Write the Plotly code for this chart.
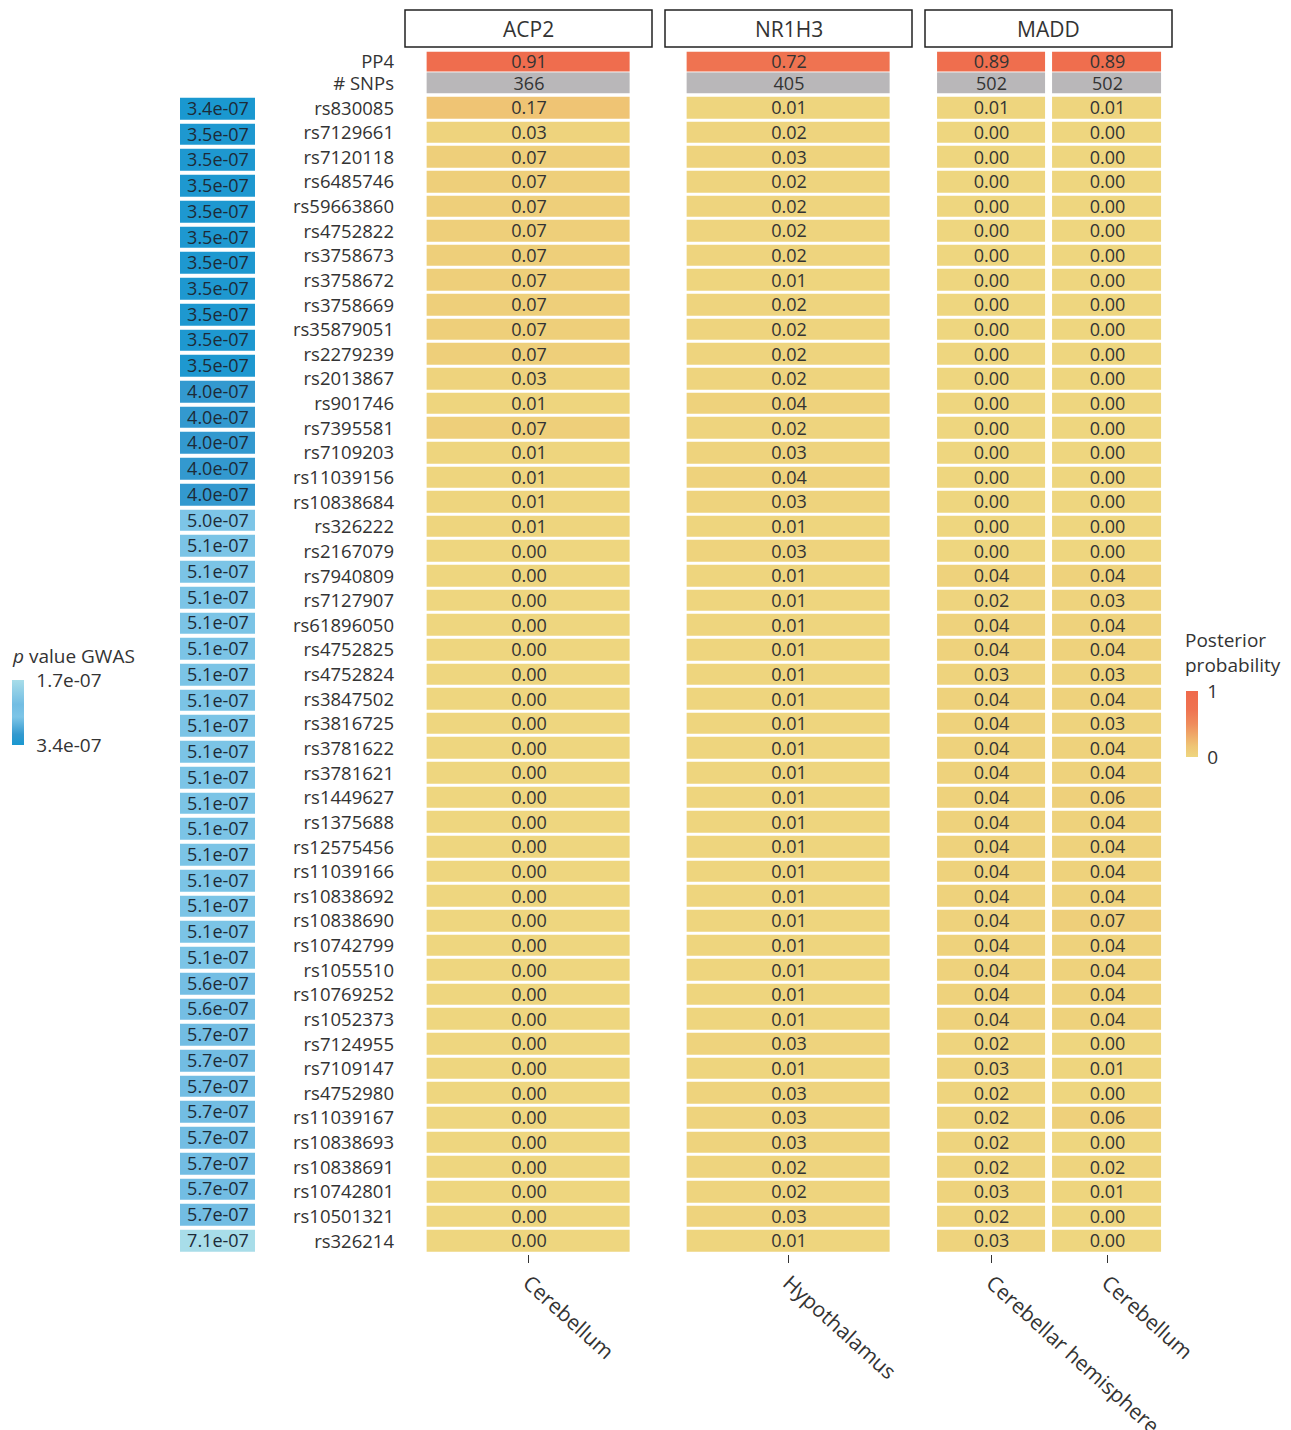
import plotly.graph_objects as go

# ---------------- data ----------------
snps = ["rs830085", "rs7129661", "rs7120118", "rs6485746", "rs59663860", "rs4752822",
        "rs3758673", "rs3758672", "rs3758669", "rs35879051", "rs2279239", "rs2013867",
        "rs901746", "rs7395581", "rs7109203", "rs11039156", "rs10838684", "rs326222",
        "rs2167079", "rs7940809", "rs7127907", "rs61896050", "rs4752825", "rs4752824",
        "rs3847502", "rs3816725", "rs3781622", "rs3781621", "rs1449627", "rs1375688",
        "rs12575456", "rs11039166", "rs10838692", "rs10838690", "rs10742799", "rs1055510",
        "rs10769252", "rs1052373", "rs7124955", "rs7109147", "rs4752980", "rs11039167",
        "rs10838693", "rs10838691", "rs10742801", "rs10501321", "rs326214"]

acp2_cerebellum = [0.17, 0.03, 0.07, 0.07, 0.07, 0.07, 0.07, 0.07, 0.07, 0.07, 0.07, 0.03,
                   0.01, 0.07, 0.01, 0.01, 0.01, 0.01, 0.00, 0.00, 0.00, 0.00, 0.00, 0.00,
                   0.00, 0.00, 0.00, 0.00, 0.00, 0.00, 0.00, 0.00, 0.00, 0.00, 0.00, 0.00,
                   0.00, 0.00, 0.00, 0.00, 0.00, 0.00, 0.00, 0.00, 0.00, 0.00, 0.00]
nr1h3_hypothalamus = [0.01, 0.02, 0.03, 0.02, 0.02, 0.02, 0.02, 0.01, 0.02, 0.02, 0.02, 0.02,
                      0.04, 0.02, 0.03, 0.04, 0.03, 0.01, 0.03, 0.01, 0.01, 0.01, 0.01, 0.01,
                      0.01, 0.01, 0.01, 0.01, 0.01, 0.01, 0.01, 0.01, 0.01, 0.01, 0.01, 0.01,
                      0.01, 0.01, 0.03, 0.01, 0.03, 0.03, 0.03, 0.02, 0.02, 0.03, 0.01]
madd_cerebellar_hemisphere = [0.01, 0.00, 0.00, 0.00, 0.00, 0.00, 0.00, 0.00, 0.00, 0.00, 0.00, 0.00,
                              0.00, 0.00, 0.00, 0.00, 0.00, 0.00, 0.00, 0.04, 0.02, 0.04, 0.04, 0.03,
                              0.04, 0.04, 0.04, 0.04, 0.04, 0.04, 0.04, 0.04, 0.04, 0.04, 0.04, 0.04,
                              0.04, 0.04, 0.02, 0.03, 0.02, 0.02, 0.02, 0.02, 0.03, 0.02, 0.03]
madd_cerebellum = [0.01, 0.00, 0.00, 0.00, 0.00, 0.00, 0.00, 0.00, 0.00, 0.00, 0.00, 0.00,
                   0.00, 0.00, 0.00, 0.00, 0.00, 0.00, 0.00, 0.04, 0.03, 0.04, 0.04, 0.03,
                   0.04, 0.03, 0.04, 0.04, 0.06, 0.04, 0.04, 0.04, 0.04, 0.07, 0.04, 0.04,
                   0.04, 0.04, 0.00, 0.01, 0.00, 0.06, 0.00, 0.02, 0.01, 0.00, 0.00]

genes = ["ACP2", "NR1H3", "MADD"]
tissues = {"ACP2": ["Cerebellum"], "NR1H3": ["Hypothalamus"],
           "MADD": ["Cerebellar hemisphere", "Cerebellum "]}
pp4 = {"ACP2": [0.91], "NR1H3": [0.72], "MADD": [0.89, 0.89]}
n_snps = {"ACP2": [366], "NR1H3": [405], "MADD": [502, 502]}
posterior = {"ACP2": [acp2_cerebellum], "NR1H3": [nr1h3_hypothalamus],
             "MADD": [madd_cerebellar_hemisphere, madd_cerebellum]}

gwas_p = [3.4e-07, 3.5e-07, 3.5e-07, 3.5e-07, 3.5e-07, 3.5e-07, 3.5e-07, 3.5e-07, 3.5e-07,
          3.5e-07, 3.5e-07, 4.0e-07, 4.0e-07, 4.0e-07, 4.0e-07, 4.0e-07, 5.0e-07, 5.1e-07,
          5.1e-07, 5.1e-07, 5.1e-07, 5.1e-07, 5.1e-07, 5.1e-07, 5.1e-07, 5.1e-07, 5.1e-07,
          5.1e-07, 5.1e-07, 5.1e-07, 5.1e-07, 5.1e-07, 5.1e-07, 5.1e-07, 5.6e-07, 5.6e-07,
          5.7e-07, 5.7e-07, 5.7e-07, 5.7e-07, 5.7e-07, 5.7e-07, 5.7e-07, 5.7e-07, 7.1e-07]
gwas_legend_labels = ["1.7e-07", "3.4e-07"]

# ---------------- layout helpers ----------------
W, H = 1291, 1430
FONT = "Open Sans"
TXT = "#333333"


def fx(p):
    return p / W


def fy(p):
    return 1 - p / H


panel_px = {"ACP2": (405, 652), "NR1H3": (665, 912), "MADD": (922.5, 1176.5)}
strip_px = {"ACP2": (405, 652), "NR1H3": (665, 912), "MADD": (925, 1172)}
main_dom = [fy(1253.5), fy(95.7)]
pp4_dom = [fy(72.2), fy(51.5)]
nsnp_dom = [fy(94), fy(72.2)]

post_scale = [[0, "#eed67f"], [0.17, "#efc474"], [0.5, "#ef8c5c"], [0.72, "#ef7351"],
              [1, "#ef6a4c"]]
p_lo, p_hi = min(gwas_p), max(gwas_p)
blue_scale = [[0, "#1a98d0"], [(4.0e-07 - p_lo) / (p_hi - p_lo), "#3399cf"],
              [(5.0e-07 - p_lo) / (p_hi - p_lo), "#7dc5e7"],
              [(5.7e-07 - p_lo) / (p_hi - p_lo), "#72bde3"], [1, "#a8dde9"]]

fig = go.Figure()
layout = dict(width=W, height=H, margin=dict(l=0, r=0, t=0, b=0),
              paper_bgcolor="white", plot_bgcolor="white", template="none",
              font=dict(family=FONT, color=TXT, size=18), showlegend=False)

shapes, annotations = [], []
xnames = ["x", "x2", "x3"]
for i, g in enumerate(genes):
    xa = xnames[i]
    n = len(tissues[g])
    gap = 7 if n > 1 else 3
    # main posterior heatmap
    fig.add_trace(go.Heatmap(
        z=[list(r) for r in zip(*posterior[g])], x=tissues[g], y=snps,
        coloraxis="coloraxis", xgap=gap, ygap=3, texttemplate="%{z:.2f}",
        textfont=dict(family=FONT, size=18, color=TXT), hoverinfo="skip",
        xaxis=xa, yaxis="y"))
    # PP4 row
    fig.add_trace(go.Heatmap(
        z=[pp4[g]], x=tissues[g], y=["PP4"], coloraxis="coloraxis", xgap=gap, ygap=1,
        texttemplate="%{z:.2f}", textfont=dict(family=FONT, size=18, color=TXT),
        hoverinfo="skip", xaxis=xa, yaxis="y2"))
    # number of SNPs row
    fig.add_trace(go.Heatmap(
        z=[n_snps[g]], x=tissues[g], y=["# SNPs"], zmin=0, zmax=1000,
        colorscale=[[0, "#b9b7b9"], [1, "#b9b7b9"]], showscale=False, xgap=gap, ygap=1,
        texttemplate="%{z}", textfont=dict(family=FONT, size=18, color=TXT),
        hoverinfo="skip", xaxis=xa, yaxis="y4"))

    key = "xaxis" if i == 0 else f"xaxis{i + 1}"
    x0, x1 = panel_px[g]
    layout[key] = dict(domain=[fx(x0), fx(x1)], anchor="y", type="category",
                       range=[-0.6, n - 0.4], showgrid=False, zeroline=False, showline=False,
                       ticks="outside", ticklen=8, tickwidth=1, tickcolor=TXT, tickangle=42,
                       tickfont=dict(family=FONT, size=21, color=TXT), automargin=False)
    s0, s1 = strip_px[g]
    shapes.append(dict(type="rect", xref="paper", yref="paper", x0=fx(s0), x1=fx(s1),
                       y0=fy(47), y1=fy(10), line=dict(color="#222222", width=1.5),
                       fillcolor="white", layer="below"))
    annotations.append(dict(text=g, xref="paper", yref="paper", x=fx((s0 + s1) / 2),
                            y=fy(28.5), showarrow=False,
                            font=dict(family=FONT, size=21, color=TXT),
                            xanchor="center", yanchor="middle"))

# GWAS p value panel
fig.add_trace(go.Heatmap(
    z=[[v] for v in gwas_p], x=["p"], y=list(range(len(gwas_p))),
    text=[[f"{v:.1e}"] for v in gwas_p], texttemplate="%{text}",
    textfont=dict(family=FONT, size=18, color="#1d2b38"),
    coloraxis="coloraxis2", xgap=0, ygap=4, hoverinfo="skip", xaxis="x4", yaxis="y3"))

ycommon = dict(anchor="x", type="category", showgrid=False, zeroline=False, showline=False,
               ticks="", ticklabelstandoff=10, automargin=False, dtick=1)
layout["yaxis"] = dict(domain=main_dom, categoryorder="array", categoryarray=snps,
                       range=[len(snps) - 0.5, -0.5],
                       tickfont=dict(family=FONT, size=18.5, color=TXT), **ycommon)
layout["yaxis2"] = dict(domain=pp4_dom, categoryorder="array", categoryarray=["PP4"],
                        range=[0.5, -0.5], tickfont=dict(family=FONT, size=18.5, color=TXT),
                        **ycommon)
layout["yaxis4"] = dict(domain=nsnp_dom, categoryorder="array", categoryarray=["# SNPs"],
                        range=[0.5, -0.5], tickfont=dict(family=FONT, size=18.5, color=TXT),
                        **ycommon)
layout["xaxis4"] = dict(domain=[fx(180), fx(255)], anchor="y3", showticklabels=False,
                        showgrid=False, zeroline=False, showline=False, ticks="",
                        range=[-0.5, 0.5], type="category", automargin=False)
layout["yaxis3"] = dict(domain=main_dom, anchor="x4", showticklabels=False, showgrid=False,
                        zeroline=False, showline=False, ticks="",
                        range=[len(gwas_p) - 0.5, -0.5], automargin=False)

layout["coloraxis"] = dict(
    colorscale=post_scale, cmin=0, cmax=1,
    colorbar=dict(x=fx(1186), xanchor="left", xpad=0, y=fy(691), yanchor="top", ypad=0,
                  lenmode="pixels", len=66, thickness=12, outlinewidth=0,
                  tickvals=[0, 1], ticktext=["0", "1"], ticks="outside", ticklen=6,
                  tickcolor="rgba(0,0,0,0)",
                  tickfont=dict(family=FONT, size=19, color=TXT)))
layout["coloraxis2"] = dict(
    colorscale=blue_scale, cmin=p_lo, cmax=p_hi,
    colorbar=dict(x=fx(12), xanchor="left", xpad=0, y=fy(680), yanchor="top", ypad=0,
                  lenmode="pixels", len=65, thickness=12, outlinewidth=0,
                  tickvals=[p_hi, p_lo], ticktext=gwas_legend_labels, ticks="outside",
                  ticklen=9, tickcolor="rgba(0,0,0,0)",
                  tickfont=dict(family=FONT, size=19, color=TXT)))

annotations.append(dict(text="<i>p</i> value GWAS", xref="paper", yref="paper",
                        x=fx(10), y=fy(656), xanchor="left", yanchor="middle",
                        showarrow=False, font=dict(family=FONT, size=19, color=TXT)))
annotations.append(dict(text="Posterior<br>probability", xref="paper", yref="paper",
                        x=fx(1183), y=fy(652), xanchor="left", yanchor="middle", align="left",
                        showarrow=False, font=dict(family=FONT, size=19, color=TXT)))

layout["shapes"] = shapes
layout["annotations"] = annotations
fig.update_layout(**layout)
fig.write_html("out.html", config={"displayModeBar": False},
               post_script="document.body.style.margin='0';")
